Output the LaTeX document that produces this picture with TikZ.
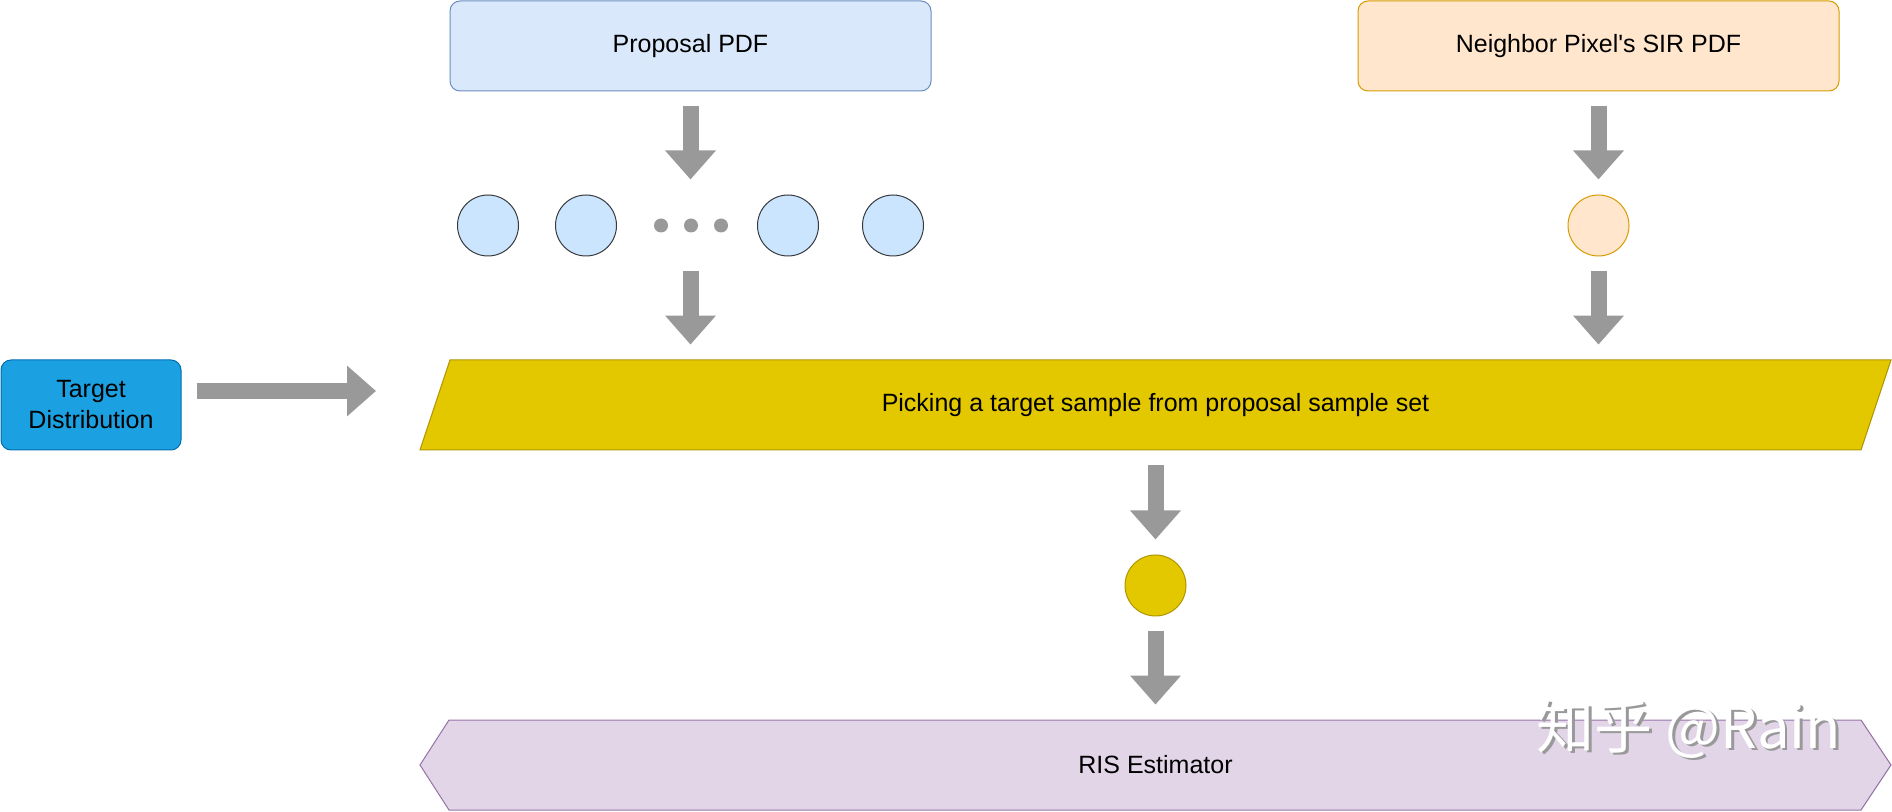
\documentclass[tikz,border=0pt]{standalone}
\usepackage{fontspec}
\setmainfont{Liberation Sans}
\newfontfamily\cjk{Noto Sans CJK SC}
\usetikzlibrary{arrows.meta}
\definecolor{arrowgray}{HTML}{999999}
\definecolor{tdfill}{HTML}{1BA1E2}
\definecolor{tddraw}{HTML}{006EAF}
\definecolor{propfill}{HTML}{DAE8FC}
\definecolor{propdraw}{HTML}{6C8EBF}
\definecolor{nbfill}{HTML}{FFE6CC}
\definecolor{nbdraw}{HTML}{D79B00}
\definecolor{smpfill}{HTML}{CCE5FF}
\definecolor{smpdraw}{HTML}{36393D}
\definecolor{yelfill}{HTML}{E3C800}
\definecolor{yeldraw}{HTML}{B09500}
\definecolor{purfill}{HTML}{E1D5E7}
\definecolor{purdraw}{HTML}{9673A6}
\begin{document}
\begin{tikzpicture}[x=0.5pt,y=-0.5pt,
  txt/.style={font=\fontsize{12.5}{15.5}\selectfont, text=black, align=center},
  box/.style={txt, rectangle, rounded corners=5pt, line width=0.5pt, minimum width=240.5pt, minimum height=45pt, inner sep=0pt},
  smp/.style={circle, line width=0.5pt, minimum size=30.5pt, inner sep=0pt},
  dotnode/.style={circle, fill=arrowgray, minimum size=7pt, inner sep=0pt},
  fat/.style={draw=arrowgray, line width=8pt, -{Triangle[length=14.5pt,width=24.5pt]}, shorten <=7.5pt, shorten >=7.5pt},
  area/.style={txt, rectangle, minimum width=720pt, minimum height=45pt, inner sep=0pt}
]
\useasboundingbox (0,0) rectangle (1892,812);

% top boxes
\node[box, fill=propfill, draw=propdraw] (prop) at (690.5,46) {Proposal PDF};
\node[box, fill=nbfill, draw=nbdraw] (nb) at (1598.5,46) {Neighbor Pixel\textquotesingle s SIR PDF};

% sample row
\node[smp, fill=smpfill, draw=smpdraw] (c1) at (488,225.5) {};
\node[smp, fill=smpfill, draw=smpdraw] (c2) at (586,225.5) {};
\node[dotnode] (d1) at (661,225.5) {};
\node[dotnode] (d2) at (691,225.5) {};
\node[dotnode] (d3) at (721,225.5) {};
\node[smp, fill=smpfill, draw=smpdraw] (c3) at (788,225.5) {};
\node[smp, fill=smpfill, draw=smpdraw] (c4) at (893,225.5) {};
\node[smp, fill=nbfill, draw=nbdraw] (nc) at (1598.5,225.5) {};

% parallelogram
\filldraw[fill=yelfill, draw=yeldraw, line width=0.5pt] (450,360) -- (1891,360) -- (1861,450) -- (420,450) -- cycle;
\node[area] (pick) at (1155.5,405) {Picking a target sample from proposal sample set};

% target distribution
\node[box, fill=tdfill, draw=tddraw, minimum width=90pt] (td) at (91,405) {Target\\Distribution};
\coordinate (tdend) at (391,391);

% result sample
\node[smp, fill=yelfill, draw=yeldraw] (yc) at (1155.5,585.5) {};

% hexagon
\filldraw[fill=purfill, draw=purdraw, line width=0.5pt] (449,720) -- (1861,720) -- (1891,765) -- (1861,810) -- (449,810) -- (420,765) -- cycle;
\node[area] (ris) at (1155.5,765) {RIS Estimator};

% connectors
\draw[fat] (prop.south) -- (prop.south |- c1.north);
\draw[fat] (prop.south |- c1.south) -- (prop.south |- pick.north);
\draw[fat] (nb.south) -- (nc.north);
\draw[fat] (nc.south) -- (nc.south |- pick.north);
\draw[fat] ([yshift=7pt]td.east) -- (tdend);
\draw[fat] (pick.south) -- (yc.north);
\draw[fat] (yc.south) -- (ris.north);

% watermark
\node[font=\cjk\fontsize{29}{29}\selectfont, text=black!40] (wms) at (1691.5,731.5) {知乎 @Rain};
\node[font=\cjk\fontsize{29}{29}\selectfont, text=white] (wm) at (1689,729) {知乎 @Rain};
\end{tikzpicture}
\end{document}
